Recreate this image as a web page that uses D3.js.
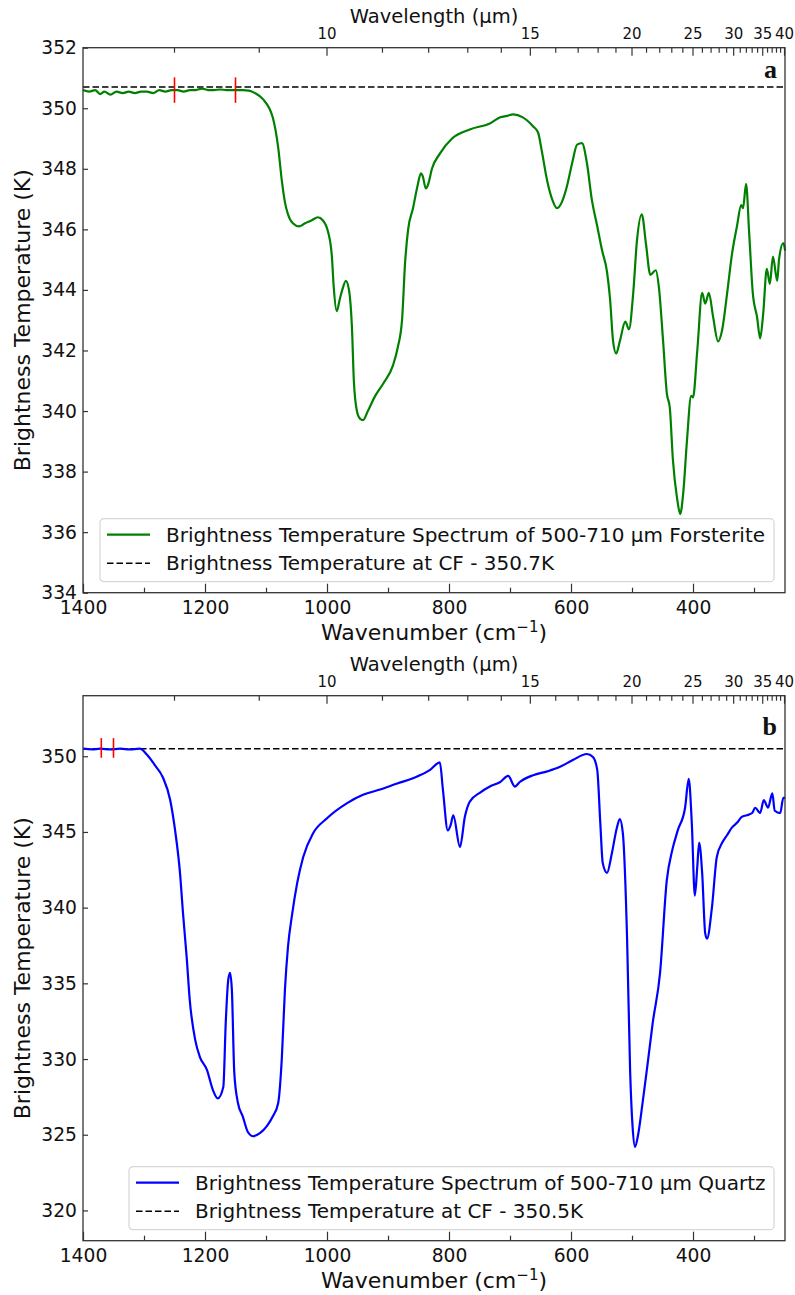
<!DOCTYPE html>
<html>
<head>
<meta charset="utf-8">
<script src="https://cdn.jsdelivr.net/npm/d3@7"></script>
<style>
  body { margin: 0; background: #fff; }
  svg { font-family: "DejaVu Sans", sans-serif; }
</style>
</head>
<body>
<div id="chart-area"></div>
<script>
// Datos de los dos espectros (numero de onda en cm-1, temperatura en K)
var wnA = [1400, 1390, 1380, 1372, 1365, 1355, 1345, 1335, 1325, 1315, 1305, 1295, 1285, 1275, 1265, 1255,
  1245, 1235, 1225, 1215, 1205, 1195, 1185, 1175, 1165, 1155, 1145, 1138, 1128, 1118, 1105, 1089, 1080,
  1074, 1069, 1064, 1056, 1046, 1036, 1025, 1015, 1007, 998, 992, 989, 984, 979, 975, 969, 964, 959, 956,
  951, 946, 941, 933, 921, 908, 892, 884, 877, 872, 867, 859, 852, 846, 843, 838, 834, 828, 815, 795, 766,
  733, 716, 705, 695, 679, 662, 654, 648, 639, 631, 623, 615, 607, 598, 590, 582, 574, 566, 557, 549, 541,
  536, 531, 526, 520, 511, 505, 498, 492, 484, 477, 470, 461, 456, 449, 443, 438, 433, 426, 421, 416, 410,
  403, 400, 393, 385, 380, 374, 367, 359, 352, 344, 336, 328, 321, 318, 313, 308, 302, 295, 290, 285, 279,
  274, 269, 262, 259, 252, 249];
var tempA = [350.6, 350.55, 350.6, 350.47, 350.55, 350.45, 350.55, 350.5, 350.55, 350.5, 350.55, 350.55,
  350.5, 350.6, 350.55, 350.6, 350.6, 350.55, 350.6, 350.6, 350.65, 350.6, 350.6, 350.62, 350.6, 350.6,
  350.6, 350.6, 350.58, 350.5, 350.3, 349.7, 348.7, 347.6, 346.9, 346.5, 346.2, 346.1, 346.2, 346.3, 346.4,
  346.3, 345.9, 345.1, 344.1, 343.3, 343.7, 344.0, 344.3, 344.0, 342.7, 341.0, 340.0, 339.75, 339.7, 340.0,
  340.5, 340.9, 341.5, 342.1, 343.0, 344.9, 346.0, 346.7, 347.4, 347.85, 347.75, 347.35, 347.5, 348.0, 348.5,
  349.0, 349.3, 349.5, 349.7, 349.75, 349.8, 349.7, 349.4, 349.2, 348.6, 347.6, 347.0, 346.7, 346.9, 347.4,
  348.2, 348.8, 348.85, 348.2, 347.0, 346.1, 345.3, 344.6, 343.7, 342.3, 341.9, 342.3, 342.95, 342.7, 343.9,
  345.6, 346.5, 345.5, 344.5, 344.65, 344.1, 342.3, 340.6, 340.1, 338.4, 337.1, 336.6, 337.3, 339.0, 340.5,
  340.45, 342.0, 343.9, 343.55, 343.9, 343.1, 342.3, 342.7, 343.9, 345.2, 346.1, 346.8, 346.7, 347.5, 345.9,
  343.9, 343.1, 342.4, 343.2, 344.7, 344.2, 345.1, 344.3, 345.0, 345.55, 345.3];

var wnB = [1400, 1385, 1372, 1355, 1339, 1323, 1307, 1295, 1282, 1269, 1257, 1249, 1241, 1236, 1230, 1225,
  1216, 1208, 1197, 1187, 1179, 1170, 1166, 1162, 1159, 1156, 1152, 1146, 1138, 1130, 1121, 1110, 1098,
  1089, 1080, 1074, 1069, 1064, 1057, 1049, 1039, 1023, 1000, 967, 941, 913, 885, 859, 831, 815, 810, 802,
  797, 793, 782, 774, 766, 749, 733, 716, 703, 692, 684, 662, 639, 618, 597, 574, 564, 557, 552, 548, 541,
  533, 525, 520, 515, 508, 503, 499, 495, 490, 483, 475, 466, 454, 443, 434, 425, 413, 407, 402, 397, 393,
  390, 385, 380, 377, 369, 361, 352, 344, 336, 328, 320, 312, 303, 298, 290, 284, 277, 270, 266, 257, 252,
  249];
var tempB = [350.5, 350.45, 350.5, 350.45, 350.5, 350.45, 350.5, 350.1, 349.4, 348.6, 347.1, 345.1, 342.3,
  339.6, 336.7, 333.9, 331.25, 330.1, 329.3, 327.95, 327.4, 328.15, 332.4, 335.2, 335.7, 334.6, 329.1,
  327.1, 326.2, 325.2, 324.9, 325.1, 325.6, 326.2, 327.1, 330.1, 334.55, 337.4, 339.6, 341.6, 343.35,
  344.9, 345.9, 346.9, 347.45, 347.8, 348.2, 348.55, 349.1, 349.6, 347.8, 345.1, 345.5, 346.1, 344.0,
  346.0, 347.0, 347.6, 348.0, 348.3, 348.7, 348.0, 348.3, 348.75, 349.0, 349.3, 349.75, 350.15, 349.95,
  349.1, 345.6, 342.95, 342.3, 343.6, 345.25, 345.85, 344.9, 337.85, 329.1, 325.5, 324.2, 325.0, 327.0,
  329.5, 332.4, 335.7, 341.8, 343.8, 345.1, 346.6, 348.5, 345.6, 340.8, 342.7, 344.3, 342.3, 338.3,
  337.95, 340.0, 343.35, 344.3, 344.8, 345.3, 345.6, 346.0, 346.1, 346.25, 346.6, 346.25, 347.1, 346.6,
  347.55, 346.4, 346.25, 347.25, 347.25];

// Temperatura en CF y marcas rojas
var refA = 350.7, refB = 350.5;
var markersA = [1250, 1150], markersB = [1370, 1350];

// Etiquetas de ejes
var wnTicks = [1400, 1200, 1000, 800, 600, 400];
var wnMinor = [1300, 1100, 900, 700, 500, 300];
var wlMajor = [10, 15, 20, 25, 30, 35, 40];
var wlMinor = d3.range(8, 41);
var yTicksA = [334, 336, 338, 340, 342, 344, 346, 348, 350, 352];
var yTicksB = [320, 325, 330, 335, 340, 345, 350];

var legendA = ["Brightness Temperature Spectrum of 500-710 μm Forsterite", "Brightness Temperature at CF - 350.7K"];
var legendB = ["Brightness Temperature Spectrum of 500-710 μm Quartz", "Brightness Temperature at CF - 350.5K"];

var svg = d3.select("#chart-area").append("svg")
    .attr("width", 795)
    .attr("height", 1295);

var left = 83, width = 702, height = 545;

function drawPanel(p) {
    var g = svg.append("g").attr("transform", "translate(" + left + "," + p.top + ")");

    var x = d3.scaleLinear().domain([1400, 249.2]).range([0, width]);
    var y = d3.scaleLinear().domain(p.yDomain).range([height, 0]);

    // Linea de referencia discontinua
    g.append("line")
        .attr("x1", 0).attr("x2", width)
        .attr("y1", y(p.ref)).attr("y2", y(p.ref))
        .attr("stroke", "#000").attr("stroke-width", 1.6)
        .attr("stroke-dasharray", "6.5,3");

    // Espectro
    var line = d3.line()
        .x(function(d, i) { return x(p.wn[i]); })
        .y(function(d) { return y(d); })
        .curve(d3.curveMonotoneX);
    g.append("path")
        .datum(p.temp)
        .attr("fill", "none")
        .attr("stroke", p.color)
        .attr("stroke-width", 2.2)
        .attr("stroke-linejoin", "round")
        .attr("d", line);

    // Marcas rojas
    g.selectAll(".marker").data(p.markers).enter().append("line")
        .attr("x1", function(d) { return x(d); })
        .attr("x2", function(d) { return x(d); })
        .attr("y1", y(p.markerY - p.markerH))
        .attr("y2", y(p.markerY + p.markerH))
        .attr("stroke", "red").attr("stroke-width", 1.6);

    // Ejes
    var axisColor = "#333";
    g.append("g").attr("transform", "translate(0," + height + ")")
        .call(d3.axisBottom(x).tickValues(wnTicks).tickFormat(d3.format("d"))
            .tickSizeInner(-9).tickSizeOuter(0).tickPadding(8));
    g.append("g").attr("transform", "translate(0," + height + ")")
        .call(d3.axisBottom(x).tickValues(wnMinor).tickSizeInner(-5).tickSizeOuter(0).tickFormat(""));
    g.append("g")
        .call(d3.axisLeft(y).tickValues(p.yTicks).tickFormat(d3.format("d"))
            .tickSizeInner(-5).tickSizeOuter(0).tickPadding(6));

    var wl = function(v) { return x(10000 / v); };
    var topG = g.append("g");
    topG.selectAll(".wlminor").data(wlMinor).enter().append("line")
        .attr("x1", wl).attr("x2", wl)
        .attr("y1", 0)
        .attr("y2", function(d) { return wlMajor.indexOf(d) >= 0 ? 8 : 5; })
        .attr("stroke", axisColor).attr("stroke-width", 1.2);
    topG.selectAll(".wllabel").data(wlMajor).enter().append("text")
        .attr("x", wl).attr("y", -9)
        .attr("text-anchor", "middle")
        .attr("font-size", "15px")
        .attr("fill", "#111")
        .text(function(d) { return d; });

    svg.selectAll(".domain").remove();
    g.selectAll(".tick line").attr("stroke", axisColor).attr("stroke-width", 1.2);
    g.selectAll(".tick text").attr("font-size", "18.7px").attr("fill", "#111").attr("font-family", "DejaVu Sans");

    // Marco
    g.append("rect")
        .attr("width", width).attr("height", height)
        .attr("fill", "none").attr("stroke", axisColor).attr("stroke-width", 1.3);

    // Titulos de ejes
    g.append("text")
        .attr("x", width / 2).attr("y", -25)
        .attr("text-anchor", "middle").attr("font-size", "19.5px").attr("fill", "#111")
        .text("Wavelength (μm)");
    var xl = g.append("text")
        .attr("x", width / 2).attr("y", height + 47)
        .attr("text-anchor", "middle").attr("font-size", "22px").attr("fill", "#111");
    xl.append("tspan").text("Wavenumber (cm");
    xl.append("tspan").attr("dy", -8).attr("font-size", "15px").text("−1");
    xl.append("tspan").attr("dy", 8).text(")");
    g.append("text")
        .attr("transform", "translate(-53," + (height / 2) + ") rotate(-90)")
        .attr("text-anchor", "middle").attr("font-size", "22px").attr("fill", "#111")
        .text("Brightness Temperature (K)");

    // Letra del panel
    g.append("text")
        .attr("x", width - 8).attr("y", p.letterY)
        .attr("text-anchor", "end")
        .attr("font-family", "Liberation Serif, serif").attr("font-weight", "bold")
        .attr("font-size", "26px").attr("fill", "#111")
        .text(p.letter);

    // Leyenda
    var lg = g.append("g").attr("transform", "translate(" + p.legX + "," + p.legY + ")");
    lg.append("rect")
        .attr("width", width - 11 - p.legX).attr("height", 63)
        .attr("rx", 4)
        .attr("fill", "#fff").attr("fill-opacity", 0.85)
        .attr("stroke", "#d6d6d6").attr("stroke-width", 1.2);
    var rows = [{ color: p.color, dash: null }, { color: "#000", dash: "6.5,3" }];
    rows.forEach(function(r, i) {
        var ly = 16 + i * 28.5;
        lg.append("line")
            .attr("x1", 7).attr("x2", 50)
            .attr("y1", ly).attr("y2", ly)
            .attr("stroke", r.color).attr("stroke-width", i === 0 ? 2.2 : 1.6)
            .attr("stroke-dasharray", r.dash);
        lg.append("text")
            .attr("x", 66).attr("y", ly + 7)
            .attr("font-size", "20px").attr("fill", "#111")
            .text(p.legend[i]);
    });
}

drawPanel({ top: 47.7, yDomain: [334, 352], yTicks: yTicksA, wn: wnA, temp: tempA, color: "#008000",
    ref: refA, markers: markersA, markerY: 350.6, markerH: 0.42, letter: "a", letterY: 30,
    legend: legendA, legX: 17, legY: 471 });
drawPanel({ top: 695.7, yDomain: [318, 354], yTicks: yTicksB, wn: wnB, temp: tempB, color: "#0000ff",
    ref: refB, markers: markersB, markerY: 350.55, markerH: 0.65, letter: "b", letterY: 39,
    legend: legendB, legX: 46, legY: 471 });
</script>
</body>
</html>
